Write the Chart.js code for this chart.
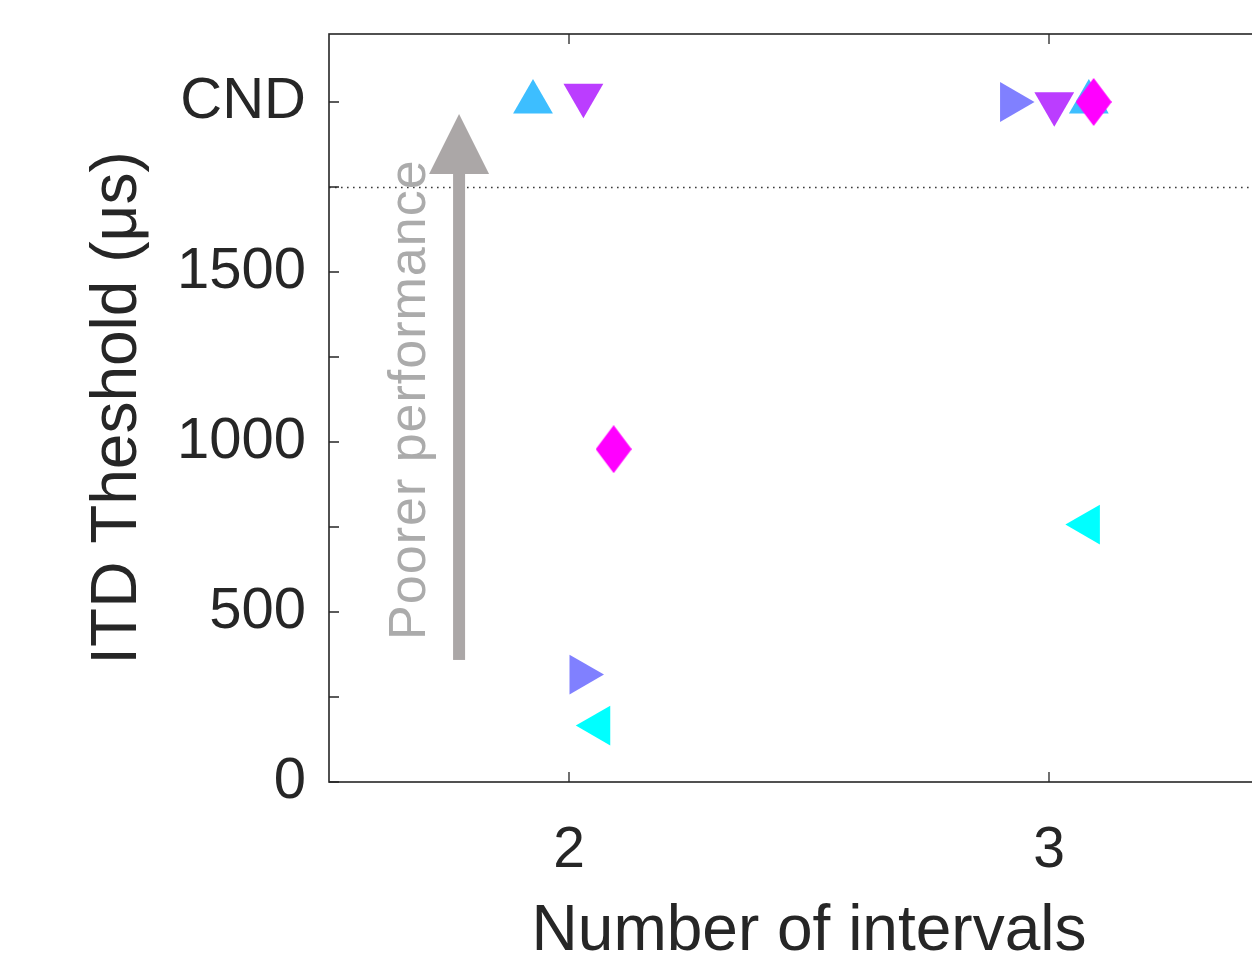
<!DOCTYPE html>
<html>
<head>
<meta charset="utf-8">
<script src="https://cdn.jsdelivr.net/npm/chart.js@4"></script>
<style>
  html, body { margin: 0; padding: 0; background: #fff; overflow: hidden; }
  #c { display: block; }
</style>
</head>
<body>
<canvas id="c" width="1312" height="958"></canvas>
<script>
// ---- data ----
const upTriX    = [1.925, 3.083];
const upTriY    = [2000, 2000];
const downTriX  = [2.030, 3.011];
const downTriY  = [2020, 1995];
const rightTriX = [2.025, 2.922];
const rightTriY = [316, 2000];
const leftTriX  = [2.062, 3.082];
const leftTriY  = [166, 757];
const diamondX  = [2.093, 3.093];
const diamondY  = [979, 2000];

const xTickValues = [2, 3];
const xTickLabels = ['2', '3'];
const yTickValues = [0, 250, 500, 750, 1000, 1250, 1500, 1750, 2000];
const yLabelValues = [0, 500, 1000, 1500, 2000];
const yLabelTexts  = ['0', '500', '1000', '1500', 'CND'];
const cutoffLine = [1750];
const arrowX = [1.771];
const arrowY = [359, 1965];
const arrowHeadBase = [1788];
const noteText = ['Poorer performance'];
const noteX = [1.70];
const noteY = [418];

const FONT = "'Liberation Sans', Arial, Helvetica, sans-serif";
const INK = '#262626';

function pts(xs, ys) { return xs.map((x, i) => ({x: x, y: ys[i]})); }

// diamond marker image (taller than wide)
const dia = document.createElement('canvas');
dia.width = 36; dia.height = 48;
(function () {
  const g = dia.getContext('2d');
  g.fillStyle = '#FF00FF';
  g.beginPath();
  g.moveTo(18, 0); g.lineTo(36, 24); g.lineTo(18, 48); g.lineTo(0, 24);
  g.closePath(); g.fill();
})();

function zeroPad(s) { s.paddingTop = 0; s.paddingBottom = 0; s.paddingLeft = 0; s.paddingRight = 0; }

const annot = {
  id: 'annot',
  beforeDatasetsDraw(chart) {
    const ctx = chart.ctx, xs = chart.scales.x, ys = chart.scales.y, a = chart.chartArea;
    ctx.save();
    // dotted cutoff line
    ctx.strokeStyle = '#3a3a3a';
    ctx.lineWidth = 1.6;
    ctx.setLineDash([1.6, 4.4]);
    cutoffLine.forEach(v => {
      const py = Math.round(ys.getPixelForValue(v)) + 0.5;
      ctx.beginPath(); ctx.moveTo(a.left, py); ctx.lineTo(a.right, py); ctx.stroke();
    });
    ctx.setLineDash([]);
    // arrow
    const ax = xs.getPixelForValue(arrowX[0]);
    const y0 = ys.getPixelForValue(arrowY[0]);
    const y1 = ys.getPixelForValue(arrowY[1]);
    const yb = ys.getPixelForValue(arrowHeadBase[0]);
    ctx.fillStyle = '#ABA7A7';
    ctx.fillRect(ax - 6, yb - 1, 12, y0 - yb + 1);
    ctx.beginPath();
    ctx.moveTo(ax, y1); ctx.lineTo(ax + 30, yb); ctx.lineTo(ax - 30, yb);
    ctx.closePath(); ctx.fill();
    // note text
    const tx = xs.getPixelForValue(noteX[0]);
    const ty = ys.getPixelForValue(noteY[0]);
    ctx.translate(tx, ty);
    ctx.rotate(-Math.PI / 2);
    ctx.fillStyle = '#ABABAB';
    ctx.font = '52px ' + FONT;
    try { ctx.letterSpacing = '1px'; } catch (e) {}
    ctx.textAlign = 'left';
    ctx.textBaseline = 'alphabetic';
    ctx.fillText(noteText[0], 0, 0);
    ctx.restore();
  },
  afterDraw(chart) {
    const ctx = chart.ctx, xs = chart.scales.x, ys = chart.scales.y, a = chart.chartArea;
    ctx.save();
    ctx.strokeStyle = INK;
    ctx.lineWidth = 1.6;
    ctx.strokeRect(a.left, a.top, a.right - a.left, a.bottom - a.top);
    ctx.lineWidth = 1.3;
    ctx.beginPath();
    yTickValues.forEach(v => {
      const py = ys.getPixelForValue(v);
      ctx.moveTo(a.left, py); ctx.lineTo(a.left + 10, py);
      ctx.moveTo(a.right, py); ctx.lineTo(a.right - 10, py);
    });
    xTickValues.forEach(v => {
      const px = xs.getPixelForValue(v);
      ctx.moveTo(px, a.bottom); ctx.lineTo(px, a.bottom - 10);
      ctx.moveTo(px, a.top); ctx.lineTo(px, a.top + 10);
    });
    ctx.stroke();
    ctx.restore();
  }
};

new Chart(document.getElementById('c'), {
  type: 'scatter',
  data: {
    datasets: [
      { label: 'diamond', data: pts(diamondX, diamondY), pointStyle: dia,
        backgroundColor: '#FF00FF', borderColor: '#FF00FF', pointBorderWidth: 0 },
      { label: 'left', data: pts(leftTriX, leftTriY), pointStyle: 'triangle', pointRotation: 270,
        pointRadius: 23, backgroundColor: '#00FFFF', borderColor: '#00FFFF', pointBorderWidth: 0 },
      { label: 'up', data: pts(upTriX, upTriY), pointStyle: 'triangle', pointRotation: 0,
        pointRadius: 23, backgroundColor: '#3DBEFF', borderColor: '#3DBEFF', pointBorderWidth: 0 },
      { label: 'down', data: pts(downTriX, downTriY), pointStyle: 'triangle', pointRotation: 180,
        pointRadius: 23, backgroundColor: '#BB3DFF', borderColor: '#BB3DFF', pointBorderWidth: 0 },
      { label: 'right', data: pts(rightTriX, rightTriY), pointStyle: 'triangle', pointRotation: 90,
        pointRadius: 23, backgroundColor: '#8080FF', borderColor: '#8080FF', pointBorderWidth: 0 }
    ]
  },
  options: {
    responsive: false,
    animation: false,
    events: [],
    layout: { padding: { left: 0, top: 34, right: 11, bottom: 0 } },
    plugins: { legend: { display: false }, tooltip: { enabled: false } },
    scales: {
      x: {
        type: 'linear', min: 1.5, max: 3.5,
        grid: { display: false, drawTicks: false }, border: { display: false },
        afterBuildTicks: s => { s.ticks = xTickValues.map(v => ({value: v})); },
        afterFit: s => { s.height = 176; zeroPad(s); },
        ticks: {
          padding: 35, color: INK, font: { family: FONT, size: 57 },
          callback: v => { const i = xTickValues.indexOf(v); return i >= 0 ? xTickLabels[i] : ''; }
        },
        title: { display: true, text: 'Number of intervals', color: INK,
          font: { family: FONT, size: 64, lineHeight: 0.8 }, padding: { top: 0, bottom: 0 } }
      },
      y: {
        type: 'linear', min: 0, max: 2200,
        grid: { display: false, drawTicks: false }, border: { display: false },
        afterBuildTicks: s => { s.ticks = yTickValues.map(v => ({value: v})); },
        afterFit: s => { s.width = 329; zeroPad(s); },
        ticks: {
          padding: 23, color: INK, font: { family: FONT, size: 58 },
          callback: v => { const i = yLabelValues.indexOf(v); return i >= 0 ? yLabelTexts[i] : ''; }
        },
        title: { display: true, text: 'ITD Theshold (μs)', color: INK,
          font: { family: FONT, size: 64 }, padding: { top: 80, bottom: 0 } }
      }
    }
  },
  plugins: [annot]
});
</script>
</body>
</html>
